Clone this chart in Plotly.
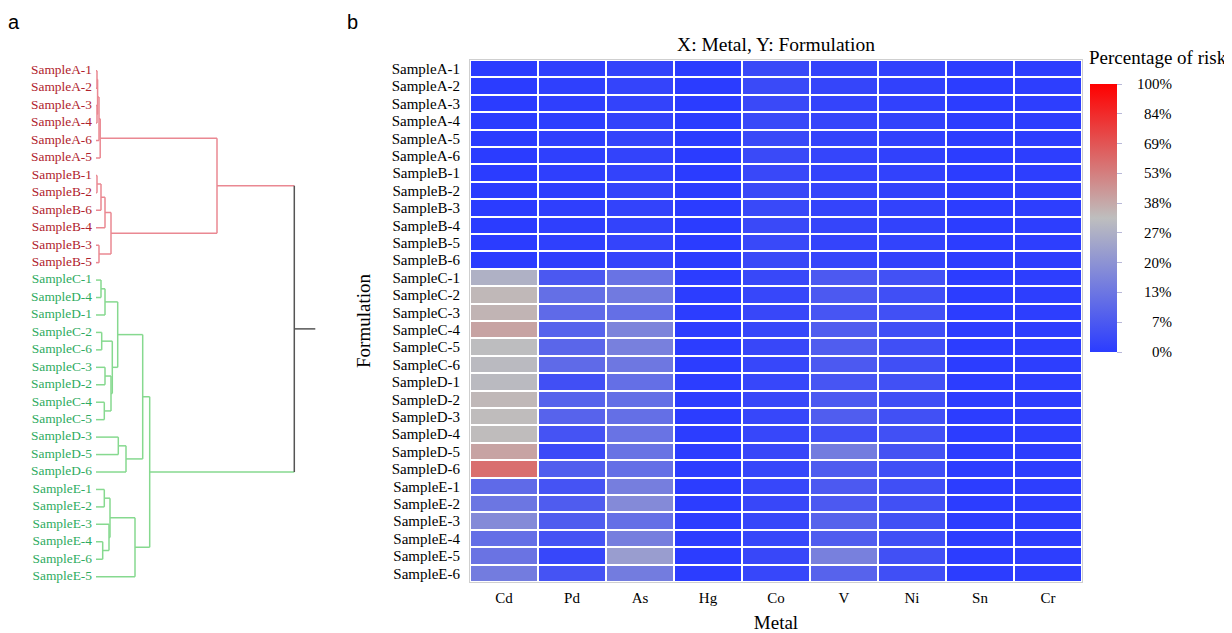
import numpy as np
import plotly.graph_objects as go

# ---------------- data ----------------
samples = ["SampleA-1", "SampleA-2", "SampleA-3", "SampleA-4", "SampleA-5", "SampleA-6",
           "SampleB-1", "SampleB-2", "SampleB-3", "SampleB-4", "SampleB-5", "SampleB-6",
           "SampleC-1", "SampleC-2", "SampleC-3", "SampleC-4", "SampleC-5", "SampleC-6",
           "SampleD-1", "SampleD-2", "SampleD-3", "SampleD-4", "SampleD-5", "SampleD-6",
           "SampleE-1", "SampleE-2", "SampleE-3", "SampleE-4", "SampleE-5", "SampleE-6"]
metals = ["Cd", "Pd", "As", "Hg", "Co", "V", "Ni", "Sn", "Cr"]

# percentage of risk per metal, rows in the order of `samples`
risk_Cd = [0, 0, 0, 0, 0, 0, 0, 0, 0, 0, 0, 0,
           27.5, 34, 35, 40, 32, 31, 31, 34, 33, 33, 40, 59,
           10.5, 13, 18, 11.5, 12.5, 14.5]
risk_Pd = [0.8, 0.9, 0.8, 0.7, 0.8, 0.9, 0.8, 0.7, 0.8, 0.8, 0.9, 0.8,
           6.9, 11.5, 10.6, 9, 9.7, 10.6, 4.7, 9, 9, 5.5, 3.5, 8,
           5.5, 7.6, 7.6, 5.5, 2.6, 5.5]
risk_As = [1.8, 2.0, 1.8, 1.7, 1.9, 1.8, 1.7, 1.9, 1.8, 1.8, 2.0, 1.9,
           12.4, 14, 11.5, 16.5, 15.4, 13.3, 11.5, 11.5, 11.5, 12.4, 12.4, 11.5,
           15, 18, 11.5, 15, 22.5, 14.4]
risk_Hg = [0.1] * 12 + [0.2] * 18
risk_Co = [3.2, 3.3, 3.2, 3.1, 3.2, 3.3, 3.0, 3.2, 3.1, 3.2, 3.1, 3.2,
           2.8, 2.6, 2.7, 2.6, 2.7, 2.6, 2.6, 2.7, 2.6, 2.6, 2.7, 2.6,
           2.6, 2.7, 2.6, 2.6, 2.7, 2.6]
risk_V = [2.0, 2.2, 2.0, 2.1, 2.0, 2.1, 2.0, 2.1, 2.0, 2.2, 2.0, 2.1,
          7, 7, 6, 7.8, 7.8, 7, 6, 7, 7.8, 4.5, 14.4, 7.6,
          7, 7, 9, 7.8, 15.4, 9]
risk_Ni = [1.2, 1.3, 1.2, 1.4, 1.2, 1.3, 1.5, 1.6, 1.4, 1.5, 1.6, 1.4,
           5, 4.6, 4.8, 4.6, 4.5, 4.6, 4.8, 4.6, 4.8, 4.8, 5.6, 4.6,
           4.6, 4.8, 4.8, 4.6, 4.8, 4.6]
risk_Sn = [0.2] * 30
risk_Cr = [0.5] * 30

# colorbar tick labels (percent) – evenly spaced on the bar
cbar_ticks = [0, 7, 13, 20, 27, 38, 53, 69, 84, 100]

# dendrogram (panel a): leaf order and merges (left, right, distance)
leaf_order = ["SampleA-1", "SampleA-2", "SampleA-3", "SampleA-4", "SampleA-6", "SampleA-5",
              "SampleB-1", "SampleB-2", "SampleB-6", "SampleB-4", "SampleB-3", "SampleB-5",
              "SampleC-1", "SampleD-4", "SampleD-1", "SampleC-2", "SampleC-6", "SampleC-3",
              "SampleD-2", "SampleC-4", "SampleC-5", "SampleD-3", "SampleD-5", "SampleD-6",
              "SampleE-1", "SampleE-2", "SampleE-3", "SampleE-4", "SampleE-6", "SampleE-5"]
merges = [
    ("SampleA-1", "SampleA-2", 1.0),   # 0
    ("SampleA-3", "SampleA-4", 1.0),   # 1
    (0, 1, 1.6),                        # 2
    (2, "SampleA-6", 3.0),              # 3
    (3, "SampleA-5", 4.2),              # 4
    ("SampleB-1", "SampleB-2", 1.0),   # 5
    (5, "SampleB-6", 5.0),              # 6
    (6, "SampleB-4", 9.0),              # 7
    ("SampleB-3", "SampleB-5", 3.0),   # 8
    (7, 8, 15.0),                       # 9
    (4, 9, 121.0),                      # 10
    ("SampleC-1", "SampleD-4", 5.0),   # 11
    (11, "SampleD-1", 9.0),             # 12
    ("SampleC-2", "SampleC-6", 5.7),   # 13
    ("SampleC-3", "SampleD-2", 9.0),   # 14
    ("SampleC-4", "SampleC-5", 8.3),   # 15
    (14, 15, 15.0),                     # 16
    (13, 16, 16.3),                     # 17
    (12, 17, 21.7),                     # 18
    ("SampleD-3", "SampleD-5", 22.3),  # 19
    (19, "SampleD-6", 30.0),            # 20
    (18, 20, 46.7),                     # 21
    ("SampleE-1", "SampleE-2", 8.3),   # 22
    ("SampleE-4", "SampleE-6", 6.7),   # 23
    ("SampleE-3", 23, 13.0),            # 24
    (22, 24, 14.0),                     # 25
    (25, "SampleE-5", 39.0),            # 26
    (21, 26, 53.7),                     # 27
    (10, 27, 198.3),                    # 28
]
leaf_cluster = {s: ("AB" if s[6] in "AB" else "CDE") for s in leaf_order}

# ---------------- styles ----------------
PAGE_W, PAGE_H = 1232, 633
OFF = 8                      # browser body margin
W, H = PAGE_W - OFF, PAGE_H - OFF
SERIF = "Liberation Serif, Times New Roman, serif"
SANS = "Liberation Sans, Arial, sans-serif"
line_colors = {"AB": "#ea8892", "CDE": "#86d98f", "root": "#555555"}
label_colors = {"AB": "#b0222c", "CDE": "#2eab60"}
colorscale = [[0.0, "rgb(43,60,255)"], [0.5, "rgb(190,190,190)"], [1.0, "rgb(255,0,0)"]]
label_gap = 4                # gap between leaf label and leaf stub (distance units = px)
dendro_pad = 8               # extra axis room left of the leaves


def px_x(p):
    return (p - OFF) / W


def px_y(p):
    return 1 - (p - OFF) / H


# ---------------- heatmap ----------------
risk = np.array([risk_Cd, risk_Pd, risk_As, risk_Hg, risk_Co, risk_V,
                 risk_Ni, risk_Sn, risk_Cr]).T
tick_pos = np.linspace(0, 1, len(cbar_ticks))
zpos = np.interp(risk, cbar_ticks, tick_pos)

hm_left, hm_right, hm_top, hm_bot = 470, 1082, 60, 582
cb_left, cb_top, cb_len, cb_thick = 1090, 84, 268, 27

fig = go.Figure()
fig.add_trace(go.Heatmap(
    z=zpos, x=metals, y=samples, customdata=risk,
    hovertemplate="%{y} / %{x}: %{customdata:.1f}%<extra></extra>",
    colorscale=colorscale, zmin=0, zmax=1, xgap=2, ygap=2,
    xaxis="x", yaxis="y",
    colorbar=dict(
        x=px_x(cb_left), xanchor="left", xpad=0,
        y=px_y(cb_top), yanchor="top", ypad=0,
        len=cb_len, lenmode="pixels", thickness=cb_thick, thicknessmode="pixels",
        outlinewidth=0, tickvals=list(tick_pos), ticks="outside", ticklen=5,
        tickcolor="#b8b8d8", showticklabels=False,
    ),
))

# ---------------- dendrogram ----------------
leaf_y = {s: i for i, s in enumerate(leaf_order)}
node_pos, node_col = {}, {}


def get(ref):
    if isinstance(ref, str):
        return (0.0, float(leaf_y[ref])), leaf_cluster[ref]
    return node_pos[ref], node_col[ref]


segs = {"AB": ([], []), "CDE": ([], []), "root": ([], [])}
for k, (a, b, h) in enumerate(merges):
    (xa, ya), ca = get(a)
    (xb, yb), cb = get(b)
    col = ca if ca == cb else "root"
    for (xc, yc), cc in (((xa, ya), ca), ((xb, yb), cb)):
        segs[cc][0].extend([xc, h, None])
        segs[cc][1].extend([yc, yc, None])
    segs[col][0].extend([h, h, None])
    segs[col][1].extend([ya, yb, None])
    node_pos[k] = (h, (ya + yb) / 2)
    node_col[k] = col

root_h, root_y = node_pos[len(merges) - 1]
trunk = 21
segs["root"][0].extend([root_h, root_h + trunk, None])
segs["root"][1].extend([root_y, root_y, None])

for key, (xs, ys) in segs.items():
    fig.add_trace(go.Scatter(x=xs, y=ys, mode="lines", xaxis="x2", yaxis="y2",
                             line=dict(color=line_colors[key], width=1.5),
                             hoverinfo="skip", showlegend=False))

fig.add_trace(go.Scatter(
    x=[-label_gap] * len(leaf_order), y=list(range(len(leaf_order))), mode="text",
    text=leaf_order, textposition="middle left", xaxis="x2", yaxis="y2",
    textfont=dict(family=SERIF, size=13.4,
                  color=[label_colors[leaf_cluster[s]] for s in leaf_order]),
    hoverinfo="skip", showlegend=False, cliponaxis=False))

# ---------------- layout ----------------
dendro_top = 70.7 - 8.72
dendro_bot = 576.7 + 8.72
annotations = [
    dict(text="a", x=px_x(14), y=px_y(22), xref="paper", yref="paper", showarrow=False,
         xanchor="center", yanchor="middle",
         font=dict(family=SANS, size=20, color="black")),
    dict(text="b", x=px_x(352), y=px_y(22), xref="paper", yref="paper", showarrow=False,
         xanchor="center", yanchor="middle",
         font=dict(family=SANS, size=20, color="black")),
    dict(text="Percentage of risk", x=px_x(1087), y=px_y(57), xref="paper", yref="paper",
         xanchor="left", yanchor="middle", showarrow=False,
         font=dict(family=SERIF, size=19, color="black")),
]
for t, lab in zip(tick_pos, cbar_ticks):
    annotations.append(dict(
        text=f"{lab}%", x=px_x(1174), xanchor="right", yanchor="middle",
        y=px_y(cb_top + cb_len - t * cb_len), xref="paper", yref="paper",
        showarrow=False, font=dict(family=SERIF, size=15, color="black")))

fig.update_layout(
    width=W, height=H, margin=dict(l=0, r=0, t=0, b=0),
    paper_bgcolor="white", plot_bgcolor="white", showlegend=False,
    title=dict(text="X: Metal, Y: Formulation", x=px_x((hm_left + hm_right) / 2),
               xanchor="center", y=px_y(44), yanchor="middle",
               font=dict(family=SERIF, size=19.5, color="black")),
    xaxis=dict(domain=[px_x(hm_left), px_x(hm_right)], showgrid=False, zeroline=False,
               showline=True, mirror=True, linecolor="#cfcfcf", linewidth=1,
               ticks="", ticklabelstandoff=2,
               tickfont=dict(family=SERIF, size=15, color="black"),
               title=dict(text="Metal", standoff=10,
                          font=dict(family=SERIF, size=19, color="black"))),
    yaxis=dict(domain=[px_y(hm_bot), px_y(hm_top)], autorange="reversed",
               tickmode="array", tickvals=samples, ticktext=samples,
               showgrid=False, zeroline=False,
               showline=True, mirror=True, linecolor="#cfcfcf", linewidth=1,
               ticks="", ticklabelstandoff=6,
               tickfont=dict(family=SERIF, size=15, color="black"),
               title=dict(text="Formulation", standoff=16,
                          font=dict(family=SERIF, size=19, color="black"))),
    xaxis2=dict(domain=[px_x(96 - dendro_pad), px_x(330)], range=[-dendro_pad, 234],
                visible=False),
    yaxis2=dict(domain=[px_y(dendro_bot), px_y(dendro_top)], range=[29.5, -0.5],
                visible=False),
    annotations=annotations,
)

fig.write_html("out.html")
